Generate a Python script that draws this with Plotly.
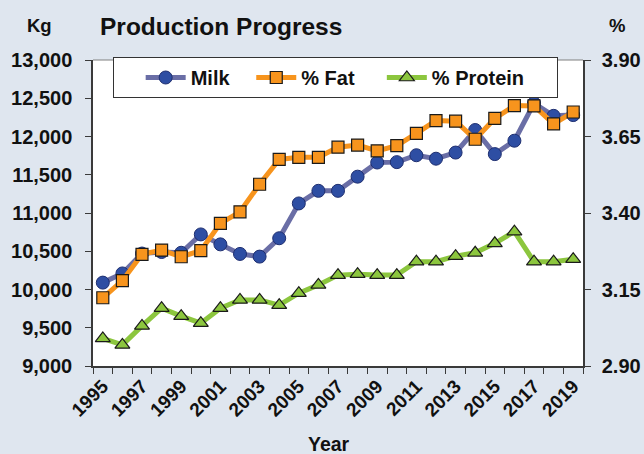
import plotly.graph_objects as go

years = list(range(1995, 2020))
label_years = [y for y in years if y % 2 == 1]
label_text = [str(y) for y in label_years]

milk_kg = [10090, 10210, 10470, 10490, 10480, 10720, 10590, 10465, 10430, 10670,
           11125, 11290, 11290, 11475, 11660, 11665, 11755, 11710, 11790, 12085,
           11770, 11945, 12435, 12270, 12280]
fat_pct = [3.123, 3.179, 3.265, 3.279, 3.257, 3.277, 3.366, 3.404, 3.494, 3.575,
           3.582, 3.582, 3.615, 3.622, 3.603, 3.620, 3.660, 3.702, 3.700, 3.641,
           3.709, 3.751, 3.750, 3.691, 3.730]
protein_pct = [2.990, 2.969, 3.031, 3.089, 3.063, 3.040, 3.089, 3.116, 3.116, 3.099,
               3.138, 3.165, 3.197, 3.200, 3.197, 3.197, 3.241, 3.241, 3.259, 3.270,
               3.301, 3.339, 3.241, 3.241, 3.249]

FONT = "Arial, 'Liberation Sans', sans-serif"
BG = "#dfe6ef"
AX = "#3a3a3a"
TXT = "#111111"
NB = "\u00a0"

W, H = 644, 454
L, R, T, B = 93, 61, 60, 88
PW, PH = W - L - R, H - T - B

def px(x):
    return (x - L) / PW

def py(y):
    return (H - B - y) / PH

fig = go.Figure()

fig.add_trace(go.Scatter(
    x=years, y=protein_pct, name="% Protein" + NB * 5, yaxis="y2", legendrank=3,
    mode="lines+markers",
    line=dict(color="#8cc63e", width=5),
    marker=dict(symbol="triangle-up", size=13, color="#8cc63e",
                line=dict(color="#1a1a1a", width=1.2)),
))
fig.add_trace(go.Scatter(
    x=years, y=milk_kg, name="Milk" + NB * 3, yaxis="y", legendrank=1,
    mode="lines+markers",
    line=dict(color="#6a6ea6", width=5),
    marker=dict(symbol="circle", size=13, color="#2e4ea3",
                line=dict(color="#1f2f70", width=1)),
))
fig.add_trace(go.Scatter(
    x=years, y=fat_pct, name="% Fat" + NB * 4, yaxis="y2", legendrank=2,
    mode="lines+markers",
    line=dict(color="#f7941d", width=5),
    marker=dict(symbol="square", size=12, color="#f7941d",
                line=dict(color="#1a1a1a", width=1.2)),
))

tickfont = dict(family=FONT, size=20, color=TXT, weight="bold")

fig.update_layout(
    width=W, height=H,
    margin=dict(l=L, r=R, t=T, b=B, autoexpand=False),
    paper_bgcolor=BG, plot_bgcolor="white",
    font=dict(family=FONT, color=TXT),
    title=dict(text="<b>Production Progress</b>", x=100/W, xanchor="left",
               y=1 - 26/H, yanchor="middle", yref="container",
               font=dict(family=FONT, size=24.5, color=TXT)),
    showlegend=True,
    legend=dict(orientation="h", x=px(113), xanchor="left", y=py(57), yanchor="top",
                bgcolor="white", bordercolor="#333333", borderwidth=1,
                font=dict(family=FONT, size=20, color=TXT, weight="bold"),
                title=dict(text=NB * 3, font=dict(family=FONT, size=20)),
                itemwidth=40, traceorder="normal"),
    xaxis=dict(range=[1994.5, 2019.5],
               tickmode="array", tickvals=label_years, ticktext=label_text,
               ticks="", tickangle=-45,
               tickfont=dict(family=FONT, size=19, color=TXT, weight="bold"),
               minor=dict(ticks="outside", ticklen=6, tickcolor=AX, tick0=1994.5, dtick=1,
                          showgrid=False),
               showline=True, linecolor=AX, linewidth=1.5, showgrid=False, zeroline=False,
               automargin=False),
    yaxis=dict(range=[9000, 13000], dtick=500, tick0=9000, tickformat=",",
               ticks="outside", ticklen=6, tickcolor=AX, tickfont=tickfont,
               ticklabelstandoff=9,
               showline=True, linecolor=AX, linewidth=1.5, showgrid=False, zeroline=False,
               automargin=False),
    yaxis2=dict(range=[2.90, 3.90], dtick=0.25, tick0=2.90, tickformat=".2f",
                overlaying="y", side="right",
                ticks="outside", ticklen=6, tickcolor=AX, tickfont=tickfont,
                ticklabelstandoff=7,
                showline=True, linecolor=AX, linewidth=1.5, showgrid=False, zeroline=False,
                automargin=False),
    shapes=[dict(type="line", xref="paper", yref="paper", x0=0, x1=1, y0=1, y1=1,
                 line=dict(color="#808080", width=1.2), layer="below")],
    annotations=[
        dict(text="<b>Kg</b>", xref="paper", yref="paper", x=px(39), y=py(26),
             xanchor="center", yanchor="middle", showarrow=False,
             font=dict(family=FONT, size=18.5, color=TXT)),
        dict(text="<b>%</b>", xref="paper", yref="paper", x=px(617), y=py(26),
             xanchor="center", yanchor="middle", showarrow=False,
             font=dict(family=FONT, size=18.5, color=TXT)),
        dict(text="<b>Year</b>", xref="paper", yref="paper", x=px(329), y=py(444),
             xanchor="center", yanchor="middle", showarrow=False,
             font=dict(family=FONT, size=19.5, color=TXT)),
    ],
)

fig.write_html("out.html", config={"displayModeBar": False},
               post_script="document.body.style.margin='0';document.body.style.padding='0';")
